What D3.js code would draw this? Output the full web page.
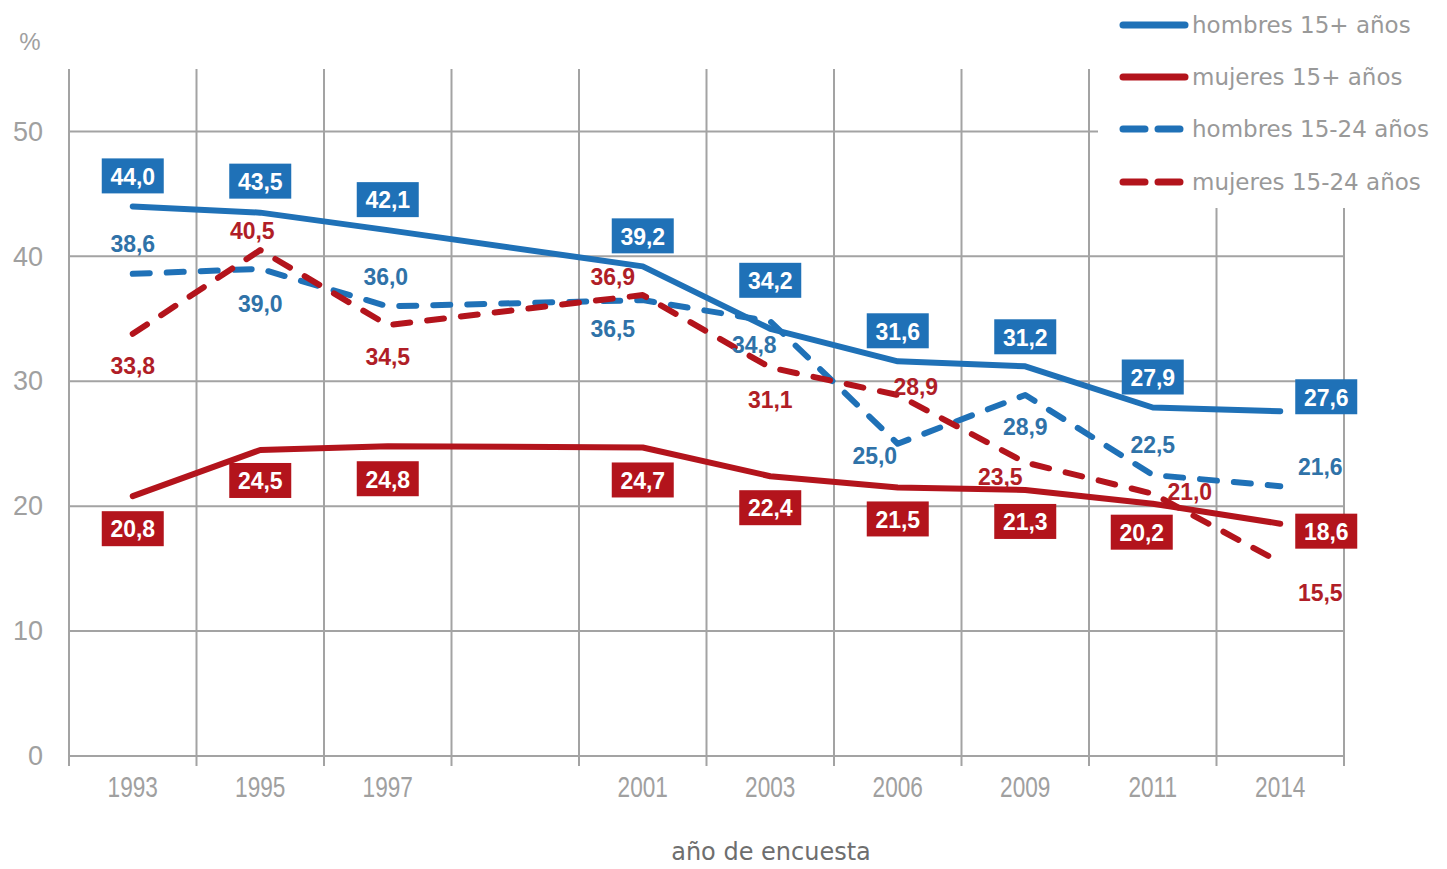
<!DOCTYPE html>
<html>
<head>
<meta charset="utf-8">
<script src="https://cdn.jsdelivr.net/npm/d3@7"></script>
<style>
  body { margin: 0; background: #fff; }
  svg { display: block; }
</style>
</head>
<body>
<svg id="chart" width="1447" height="869"></svg>
<script>
// Survey years (one empty slot kept between 1997 and 2001)
const years = ["1993", "1995", "1997", "", "2001", "2003", "2006", "2009", "2011", "2014"];
const yTicks = [0, 10, 20, 30, 40, 50];

// Prevalence, %
const hombres15 = [44.0, 43.5, 42.1, null, 39.2, 34.2, 31.6, 31.2, 27.9, 27.6];
const mujeres15 = [20.8, 24.5, 24.8, null, 24.7, 22.4, 21.5, 21.3, 20.2, 18.6];
const hombres1524 = [38.6, 39.0, 36.0, null, 36.5, 34.8, 25.0, 28.9, 22.5, 21.6];
const mujeres1524 = [33.8, 40.5, 34.5, null, 36.9, 31.1, 28.9, 23.5, 21.0, 15.5];

const seriesNames = ["hombres 15+ años", "mujeres 15+ años", "hombres 15-24 años", "mujeres 15-24 años"];

const BLUE = "#1f71b7", RED = "#b3141c";
const BLUE_TXT = "#2f72a8", RED_TXT = "#b01e27";

// Label offsets from each point (label centre), per series
const labelOffsets = [
  [[0,-30],[0,-31],[0,-30],null,[0,-30],[0,-48],[0,-30],[0,-29],[0,-30],[46,-14]],
  [[0,33],[0,31],[0,33],null,[0,33],[0,32],[0,32],[0,32],[-11,29],[46,8]],
  [[0,-30],[0,35],[-2,-30],null,[-30,29],[-16,23],[-23,12],[0,32],[0,-30],[40,-19]],
  [[0,32],[-8,-19],[0,32],null,[-30,-18],[0,32],[18,-8],[-25,14],[37,-2],[40,30]]
];

const series = [
  { name: seriesNames[0], values: hombres15,   color: BLUE, dashed: false, boxed: true,  txt: "#fff" },
  { name: seriesNames[1], values: mujeres15,   color: RED,  dashed: false, boxed: true,  txt: "#fff" },
  { name: seriesNames[2], values: hombres1524, color: BLUE, dashed: true,  boxed: false, txt: BLUE_TXT },
  { name: seriesNames[3], values: mujeres1524, color: RED,  dashed: true,  boxed: false, txt: RED_TXT }
];

const svg = d3.select("#chart");
const plotL = 69, plotR = 1344, plotT = 69, plotB = 756;

const x = d3.scaleBand().domain(years).range([plotL, plotR]).padding(0);
const y = d3.scaleLinear().domain([0, 55]).range([plotB, plotT]);

const GRID = "#a3a3a3";
const fmt = v => d3.format(".1f")(v).replace(".", ",");

// Horizontal gridlines
svg.append("g")
  .selectAll("line").data(yTicks).join("line")
  .attr("x1", plotL).attr("x2", plotR)
  .attr("y1", d => y(d)).attr("y2", d => y(d))
  .attr("stroke", GRID).attr("stroke-width", 2);

// Vertical gridlines at category boundaries, with small ticks below the base
const bounds = years.map(d => x(d)).concat([plotR]);
svg.append("g")
  .selectAll("line").data(bounds).join("line")
  .attr("x1", d => d).attr("x2", d => d)
  .attr("y1", plotT).attr("y2", plotB + 10)
  .attr("stroke", GRID).attr("stroke-width", 2);

// Y axis labels
const yAxis = svg.append("g")
  .attr("transform", `translate(${plotL},0)`)
  .call(d3.axisLeft(y).tickValues(yTicks).tickSize(0).tickPadding(26));
yAxis.select(".domain").remove();
yAxis.selectAll("text")
  .attr("font-family", "Liberation Sans, Arial, sans-serif")
  .attr("font-size", 27).attr("fill", "#a0a0a0");

// X axis labels
const xAxis = svg.append("g")
  .attr("transform", `translate(0,${plotB})`)
  .call(d3.axisBottom(x).tickSize(0).tickPadding(20));
xAxis.select(".domain").remove();
xAxis.selectAll("text")
  .attr("font-family", "Liberation Sans, Arial, sans-serif")
  .attr("font-size", 29).attr("fill", "#a0a0a0")
  .attr("transform", "scale(0.78,1)");

// Unit and axis title
svg.append("text").attr("x", 30).attr("y", 50).attr("text-anchor", "middle")
  .attr("font-family", "Liberation Sans, Arial, sans-serif")
  .attr("font-size", 24).attr("fill", "#a0a0a0").text("%");

svg.append("text").attr("x", 771).attr("y", 860).attr("text-anchor", "middle")
  .attr("font-family", "DejaVu Sans, sans-serif")
  .attr("font-size", 24).attr("fill", "#6e6e6e").text("año de encuesta");

// Lines
const line = d3.line().x(d => x(d.year) + x.bandwidth() / 2).y(d => y(d.v));
const pts = s => years.map((yr, i) => ({ year: yr, v: s.values[i], i })).filter(d => d.v != null);

svg.append("g").selectAll("path").data(series).join("path")
  .attr("d", s => line(pts(s)))
  .attr("fill", "none")
  .attr("stroke", s => s.color)
  .attr("stroke-width", 6)
  .attr("stroke-linecap", "round")
  .attr("stroke-linejoin", "round")
  .attr("stroke-dasharray", s => s.dashed ? "17,17" : null);

// Value labels
const labels = svg.append("g")
  .attr("font-family", "Liberation Sans, Arial, sans-serif")
  .attr("font-weight", "bold").attr("font-size", 23);

series.forEach((s, si) => {
  pts(s).forEach(d => {
    const off = labelOffsets[si][d.i];
    const cx = x(d.year) + x.bandwidth() / 2 + off[0];
    const cy = y(d.v) + off[1];
    const g = labels.append("g").attr("transform", `translate(${cx},${cy})`);
    if (s.boxed) {
      g.append("rect").attr("x", -31).attr("y", -18).attr("width", 62).attr("height", 35)
        .attr("fill", s.color);
    }
    g.append("text").attr("text-anchor", "middle").attr("dy", "0.36em")
      .attr("fill", s.txt).text(fmt(d.v));
  });
});

// Legend
const legend = svg.append("g");
legend.append("rect").attr("x", 1098).attr("y", 0).attr("width", 349).attr("height", 208).attr("fill", "#fff");
const rowY = [25, 77, 129, 182];
series.forEach((s, i) => {
  legend.append("line")
    .attr("x1", 1123).attr("x2", 1185).attr("y1", rowY[i]).attr("y2", rowY[i])
    .attr("stroke", s.color).attr("stroke-width", 7).attr("stroke-linecap", "round")
    .attr("stroke-dasharray", s.dashed ? "22,13" : null);
  legend.append("text").attr("x", 1192).attr("y", rowY[i]).attr("dy", "0.36em")
    .attr("font-family", "DejaVu Sans, sans-serif").attr("font-size", 23)
    .attr("fill", "#999999").text(s.name);
});
</script>
</body>
</html>
